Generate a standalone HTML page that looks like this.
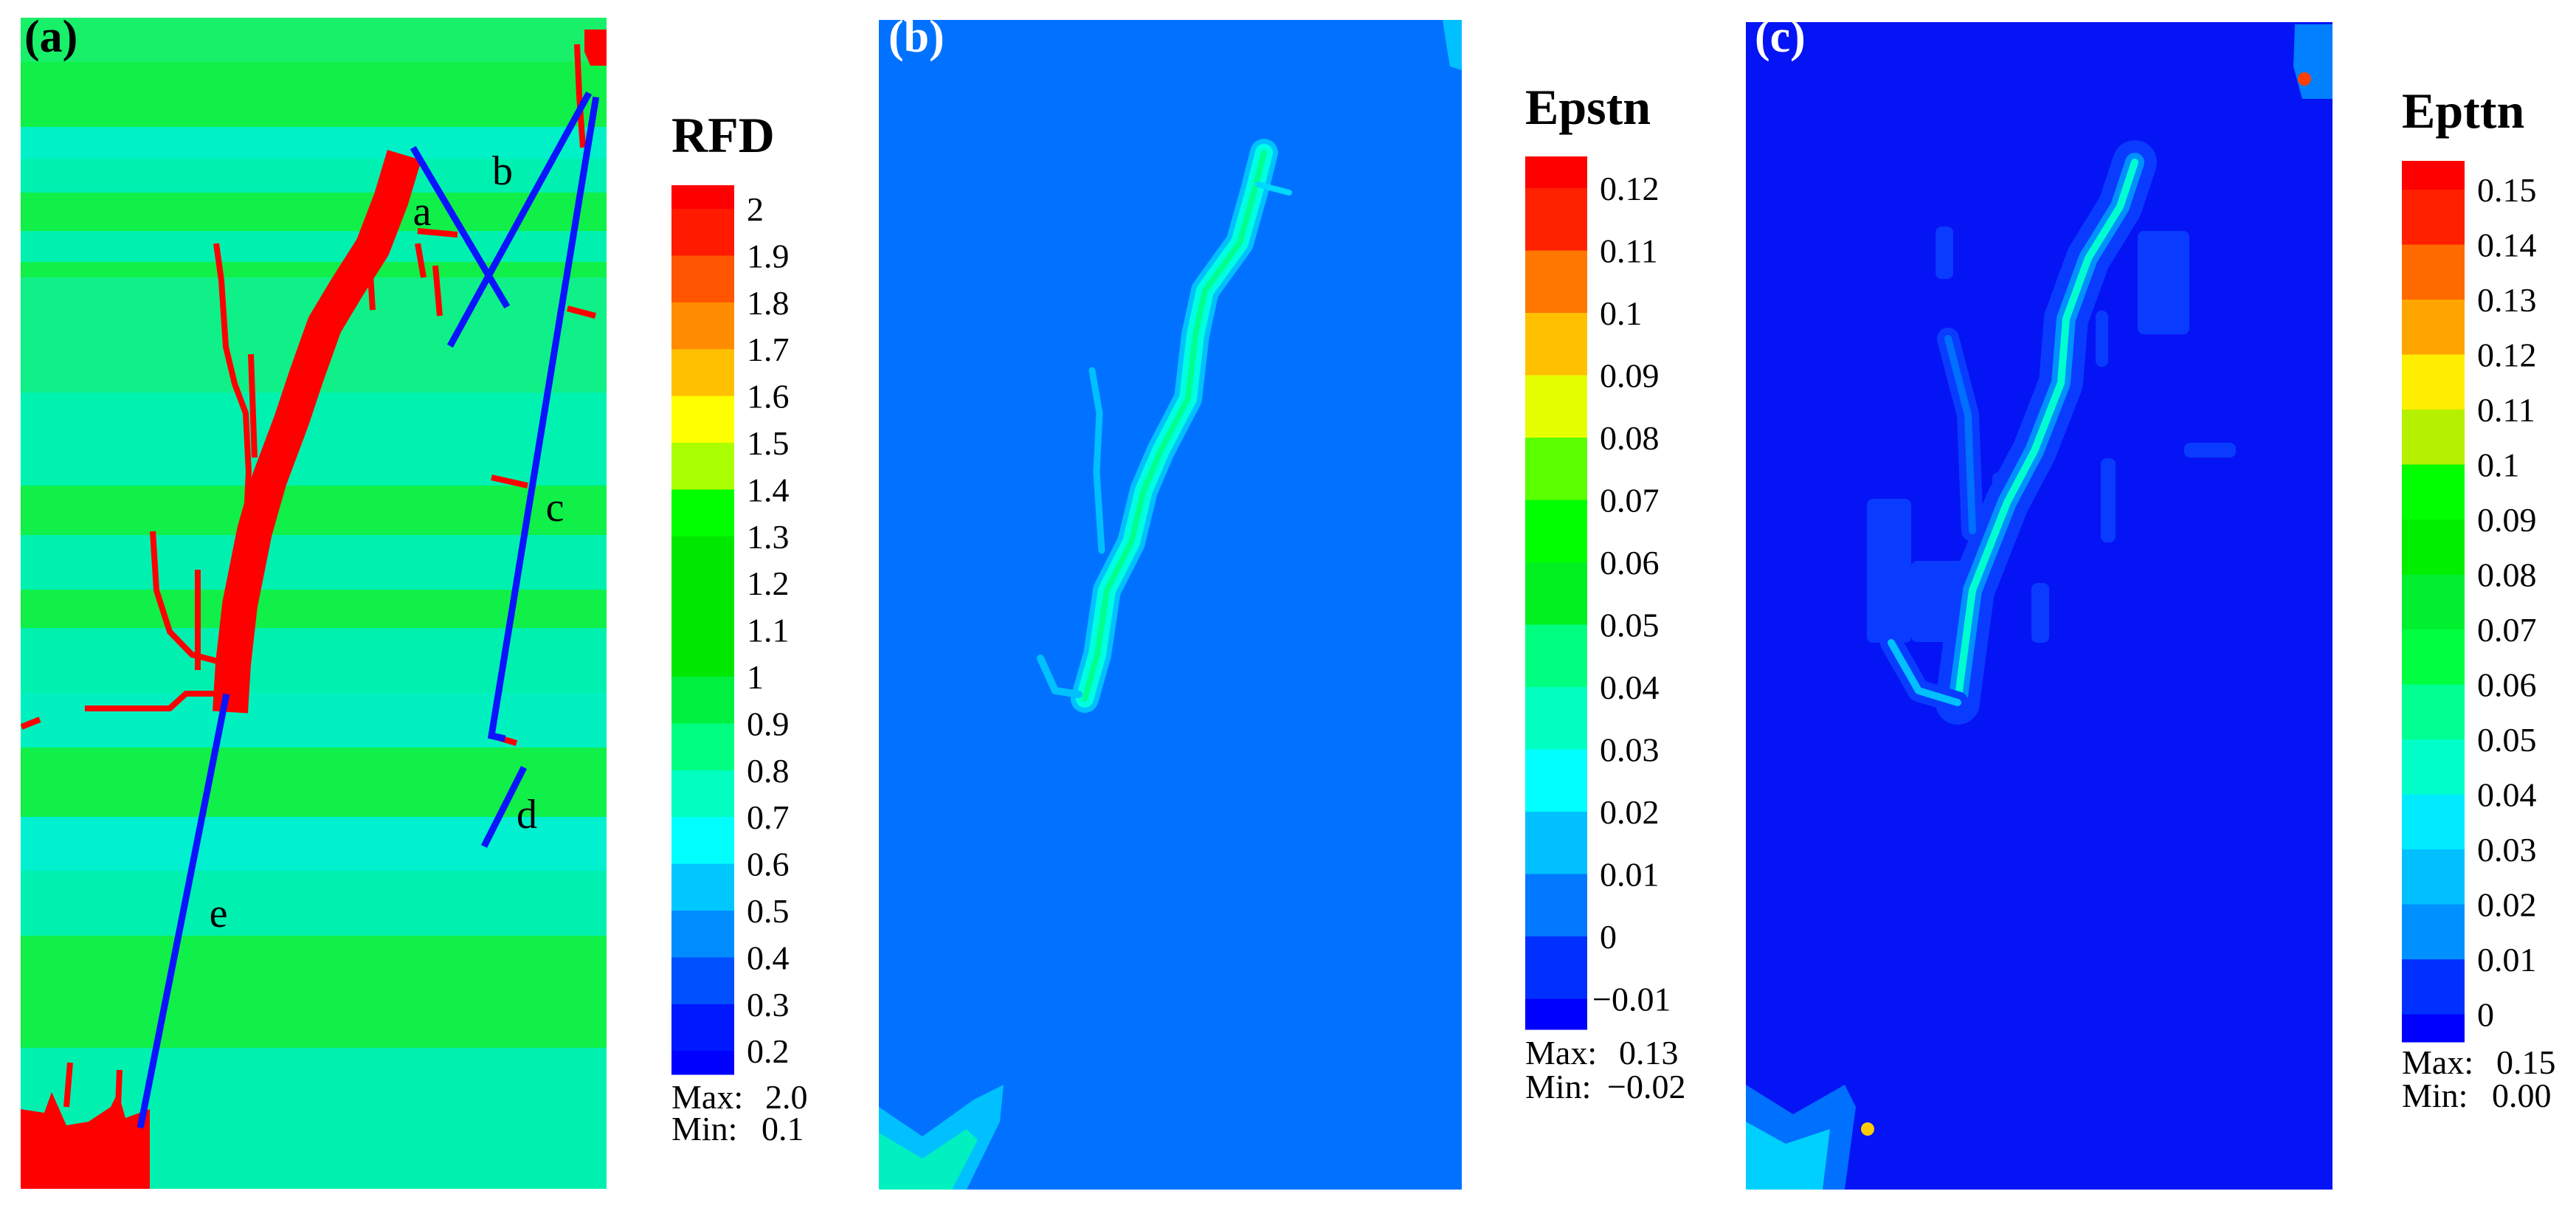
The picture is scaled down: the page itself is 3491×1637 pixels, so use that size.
<!DOCTYPE html>
<html><head><meta charset="utf-8"><style>
html,body{margin:0;padding:0;background:#fff;}
svg{display:block;}
text{font-family:"Liberation Serif",serif;}
</style></head><body>
<svg id="fig" width="3491" height="1637" viewBox="0 0 3491 1637" xmlns="http://www.w3.org/2000/svg" font-family="Liberation Serif, serif">
<defs>
<clipPath id="clipA"><rect x="28" y="24" width="794" height="1587"/></clipPath>
<clipPath id="clipB"><rect x="1191" y="27" width="790" height="1585"/></clipPath>
<clipPath id="clipC"><rect x="2366" y="30" width="795" height="1582"/></clipPath>
</defs>
<g id="panelA" clip-path="url(#clipA)"></g>
<g id="panelB" clip-path="url(#clipB)"></g>
<g id="panelC" clip-path="url(#clipC)"></g>
<g id="bars"></g>
</svg>
<script>
// ---- colour bar data ----
const rfdLabels = ["2","1.9","1.8","1.7","1.6","1.5","1.4","1.3","1.2","1.1","1","0.9","0.8","0.7","0.6","0.5","0.4","0.3","0.2"];
const rfdColors = ["#ff0000","#ff1a00","#ff5500","#ff8c00","#ffc000","#ffff00","#aaff00","#00ff00","#00e800","#00e800","#00e800","#00f040","#00ff80","#00ffc0","#00ffff","#00c8ff","#008cff","#0050ff","#0018ff","#0000ff"];
const epsLabels = ["0.12","0.11","0.1","0.09","0.08","0.07","0.06","0.05","0.04","0.03","0.02","0.01","0","\u22120.01"];
const epsColors = ["#ff0000","#ff2200","#ff7700","#ffc000","#e6ff00","#5aff00","#00ff00","#00f020","#00ff80","#00ffc0","#00ffff","#00c0ff","#0078ff","#0030ff","#0000ff"];
const eptLabels = ["0.15","0.14","0.13","0.12","0.11","0.1","0.09","0.08","0.07","0.06","0.05","0.04","0.03","0.02","0.01","0"];
const eptColors = ["#ff0000","#ff2000","#ff6a00","#ffa500","#ffee00","#b4f000","#00ff00","#00ee00","#00f030","#00ff40","#00ff90","#00ffc8","#00eaff","#00c0ff","#0090ff","#0030ff","#0000ff"];
// ---- panel (a) field data (real px) ----
const stripeY = [24,84,172,215,261,313,355,376,532,658,725,799,851,939,1013,1107,1180,1268,1420,1611];
const stripeCol = ["#18f06a","#10f048","#00f0c8","#00f0b0","#10f048","#00f0b0","#10f048","#10f088","#00f2b0","#10f048","#00f0b0","#10f048","#00f0b0","#00f0c0","#10f048","#00f0d0","#00f0b0","#10f048","#00f0b0"];
const mainCrackLine = [[548,210],[530,270],[505,335],[470,390],[440,440],[415,510],[395,570],[365,650],[345,720],[325,820],[316,900],[312,965]];
const redBlobBL = [[28,1503],[60,1508],[70,1480],[90,1525],[120,1520],[150,1500],[160,1480],[170,1515],[203,1503],[203,1611],[28,1611]];
const redBlobTR = [[792,40],[822,40],[822,89],[800,89],[792,70]];
const redBranches = [
 [[293,330],[300,380],[306,470],[318,520],[333,560],[337,640],[333,720]],
 [[115,960],[230,960],[252,940],[306,940]],
 [[207,720],[212,800],[230,856],[260,887],[310,900]],
 [[268,772],[268,908]],
 [[29,985],[54,975]],
 [[566,313],[620,318]],
 [[566,330],[574,376]],
 [[590,360],[596,428]],
 [[782,60],[785,130],[790,200]],
 [[769,418],[807,428]],
 [[666,647],[715,658]],
 [[666,997],[700,1007]],
 [[90,1500],[95,1440]],
 [[160,1500],[162,1450]],
 [[340,480],[345,620]],
 [[500,340],[505,420]]
];
const blueLines = [
 [[562,204],[685,412]],
 [[612,465],[796,130]],
 [[807,136],[666,997],[680,1000]],
 [[708,1044],[658,1143]],
 [[306,945],[191,1524]]
];
const letterLabels = [["a",572,305],["b",681,250],["c",752,706],["d",714,1122],["e",296,1256]];
// ---- panel (b) crack ----
const crackB = [[1713,207],[1700,258],[1680,329],[1633,394],[1620,454],[1610,540],[1573,611],[1550,665],[1533,735],[1500,800],[1487,887],[1470,947]];
const branchB = [[1480,502],[1490,560],[1486,640],[1493,746]];
const hookB = [[1410,892],[1430,936],[1462,941]];
const spurB = [[1705,250],[1747,261]];
// ---- panel (c) crack ----
const crackC = [[2893,220],[2873,280],[2830,350],[2800,432],[2793,519],[2757,611],[2720,681],[2673,800],[2657,920],[2653,952]];
const hookC = [[2653,952],[2600,936],[2563,871]];
const branchC = [[2640,459],[2667,562],[2673,719]];
const patchesC = [[2623,307,24,71],[2897,313,70,140],[2840,421,17,76],[2847,621,20,114],[2753,790,24,81],[2530,676,60,195],[2590,760,90,110],[2700,640,30,60],[2960,600,70,20]];

const NS = "http://www.w3.org/2000/svg";
const FF = "Liberation Serif, serif";
function mk(parent, tag, attrs){const e=document.createElementNS(NS,tag);for(const k in attrs)e.setAttribute(k,attrs[k]);if(tag==="text")e.setAttribute("font-family",FF);parent.appendChild(e);return e;}
function pts(a){return a.map(p=>p.join(",")).join(" ");}

// ---- Panel A ----
const A=document.getElementById("panelA");
for(let i=0;i<stripeCol.length;i++){
 const r=mk(A,"rect",{x:28,y:stripeY[i],width:794,height:stripeY[i+1]-stripeY[i],fill:stripeCol[i]});
 
 
}
let e=mk(A,"polyline",{points:pts(mainCrackLine),fill:"none",stroke:"#ff0000","stroke-width":48,"stroke-linejoin":"round"});


e=mk(A,"polygon",{points:pts(redBlobBL),fill:"#ff0000"});


e=mk(A,"polygon",{points:pts(redBlobTR),fill:"#ff0000"});


redBranches.forEach(b=>{
 const l=mk(A,"polyline",{points:pts(b),fill:"none",stroke:"#ff0000","stroke-width":8});
 
 
});
blueLines.forEach(b=>{
 const l=mk(A,"polyline",{points:pts(b),fill:"none",stroke:"#0a14ff","stroke-width":9,"stroke-linecap":"square"});
 
 
});
letterLabels.forEach(t=>{
 const x=mk(A,"text",{x:t[1],y:t[2],"font-size":56,"text-anchor":"middle",fill:"#000"});
 x.textContent=t[0];
 
 
});
e=mk(A,"text",{x:33,y:70,"font-size":62,"font-weight":"bold",fill:"#000"});
e.textContent="(a)";



// ---- Panel B ----
const B=document.getElementById("panelB");
e=mk(B,"rect",{x:1191,y:27,width:790,height:1585,fill:"#0072ff"});


function strokes(g,line,widths,cols,name){
 widths.forEach((w,i)=>{
  const l=mk(g,"polyline",{points:pts(line),fill:"none",stroke:cols[i],"stroke-width":w,"stroke-linejoin":"round","stroke-linecap":"round"});
  
  
 });
}
strokes(B,crackB,[38,24,8],["#00c0ff","#00ffe0","#00ff90"],"epstn-crack-band");
strokes(B,branchB,[9],["#00c0ff"],"epstn-crack-branch");
strokes(B,hookB,[10],["#00c0ff"],"epstn-crack-hook");
strokes(B,spurB,[8],["#00d8ff"],"epstn-crack-spur");
e=mk(B,"polygon",{points:"1191,1500 1250,1540 1320,1490 1360,1470 1355,1520 1310,1612 1191,1612",fill:"#00c0ff"});


e=mk(B,"polygon",{points:"1191,1535 1250,1570 1310,1530 1325,1545 1290,1612 1191,1612",fill:"#00f0c0"});


e=mk(B,"polygon",{points:"1955,27 1981,27 1981,95 1965,90 1960,60",fill:"#00c0ff"});


e=mk(B,"text",{x:1204,y:70,"font-size":62,"font-weight":"bold",fill:"#fff"});
e.textContent="(b)";



// ---- Panel C ----
const C=document.getElementById("panelC");
e=mk(C,"rect",{x:2366,y:30,width:795,height:1582,fill:"#0514f5"});


patchesC.forEach(p=>{
 const r=mk(C,"rect",{x:p[0],y:p[1],width:p[2],height:p[3],fill:"#0a3cff",rx:8});
 
 
});
strokes(C,crackC,[60,26,10],["#0a3cff","#0090ff","#00ffd0"],"epttn-crack-band");
strokes(C,hookC,[30,10],["#0a3cff","#00c0ff"],"epttn-crack-hook");
strokes(C,branchC,[30,10],["#0a3cff","#0070ff"],"epttn-crack-branch");
e=mk(C,"polygon",{points:"2366,1470 2430,1510 2500,1470 2515,1500 2500,1612 2366,1612",fill:"#0070ff"});


e=mk(C,"polygon",{points:"2366,1520 2420,1550 2480,1530 2470,1612 2366,1612",fill:"#00d0ff"});


e=mk(C,"circle",{cx:2531,cy:1530,r:9,fill:"#ffcc00"});


e=mk(C,"polygon",{points:"3110,33 3161,33 3161,134 3120,134 3108,90",fill:"#0080ff"});


e=mk(C,"circle",{cx:3123,cy:107,r:9,fill:"#ff4000"});


e=mk(C,"text",{x:2378,y:70,"font-size":62,"font-weight":"bold",fill:"#fff"});
e.textContent="(c)";



// ---- Colour bars ----
const G=document.getElementById("bars");
function colorbar(cfg){
 const step=cfg.step;
 for(let i=0;i<cfg.colors.length;i++){
  const y0 = i===0 ? cfg.top : cfg.first+(i-1)*step;
  const y1 = i===cfg.colors.length-1 ? cfg.bottom : cfg.first+i*step;
  const r=mk(G,"rect",{x:cfg.x,y:y0,width:cfg.w,height:y1-y0+0.5,fill:cfg.colors[i]});
  
  
 }
 cfg.labels.forEach((l,i)=>{
  const neg=l.charAt(0)==="\u2212";
  const t=mk(G,"text",{x:cfg.x+cfg.w+17-(neg?10:0),y:cfg.first+i*step+16,"font-size":46,fill:"#000"});
  t.textContent=l;
  
  
 });
 let t=mk(G,"text",{x:cfg.x,y:cfg.titleY,"font-size":68,"font-weight":"bold",fill:"#000"});
 t.textContent=cfg.title;
 
 
 t=mk(G,"text",{x:cfg.x,y:cfg.maxY,"font-size":46,fill:"#000"});
 t.textContent="Max:";
 
 
 t=mk(G,"text",{x:cfg.maxX,y:cfg.maxY,"font-size":46,fill:"#000"});
 t.textContent=cfg.maxV;
 
 
 t=mk(G,"text",{x:cfg.x,y:cfg.minY,"font-size":46,fill:"#000"});
 t.textContent="Min:";
 
 
 t=mk(G,"text",{x:cfg.minX,y:cfg.minY,"font-size":46,fill:"#000"});
 t.textContent=cfg.minV;
 
 
}
colorbar({name:"rfd-colorbar",labels:rfdLabels,colors:rfdColors,x:910,w:85,top:251,first:283,step:63.4,bottom:1456,title:"RFD",titleY:206,maxY:1502,minY:1545,maxX:1037,minX:1032,maxV:"2.0",minV:"0.1"});
colorbar({name:"epstn-colorbar",labels:epsLabels,colors:epsColors,x:2067,w:84,top:212,first:255,step:84.5,bottom:1395,title:"Epstn",titleY:168,maxY:1442,minY:1488,maxX:2194,minX:2178,maxV:"0.13",minV:"\u22120.02"});
colorbar({name:"epttn-colorbar",labels:eptLabels,colors:eptColors,x:3255,w:85,top:218,first:257,step:74.5,bottom:1412,title:"Epttn",titleY:173,maxY:1455,minY:1500,maxX:3383,minX:3377,maxV:"0.15",minV:"0.00"});
</script>
</body></html>
